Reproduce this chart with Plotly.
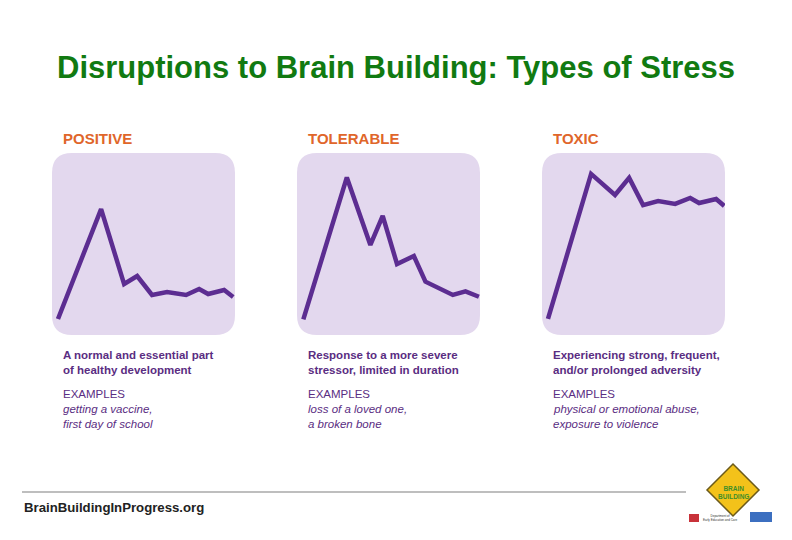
import plotly.graph_objects as go

# stress response curves, x = time (0-101), y = stress level (0-100)
positive_x = [3.3, 27.1, 39.8, 47.0, 55.2, 63.5, 74.0, 81.2, 86.2, 95.0, 100.0]
positive_y = [8.8, 69.2, 28.0, 32.4, 22.0, 23.6, 22.0, 25.3, 22.5, 24.7, 20.9]

tolerable_x = [3.5, 27.5, 40.5, 47.3, 55.2, 64.5, 70.9, 78.6, 86.0, 93.0, 100.4]
tolerable_y = [8.6, 86.6, 49.5, 65.5, 39.0, 43.4, 29.3, 25.7, 22.0, 24.0, 21.0]

toxic_x = [3.3, 27.1, 40.3, 48.1, 55.8, 64.1, 73.5, 81.8, 86.7, 96.1, 100.6]
toxic_y = [8.8, 88.5, 76.9, 86.3, 71.4, 73.6, 72.0, 75.3, 72.5, 74.7, 70.9]

headings = ["POSITIVE", "TOLERABLE", "TOXIC"]
descriptions = [
    ["A normal and essential part", "of healthy development"],
    ["Response to a more severe", "stressor, limited in duration"],
    ["Experiencing strong, frequent,", "and/or prolonged adversity"],
]
examples = [
    ["getting a vaccine,", "first day of school"],
    ["loss of a loved one,", "a broken bone"],
    ["physical or emotional abuse,", "exposure to violence"],
]

W, H = 792, 540
FONT = "Liberation Sans, Arial, sans-serif"
PURPLE = "#5c2d91"
BOX = "#e3d8ee"
ORANGE = "#e0662a"
TEXT_PURPLE = "#5a2d82"


def px(x):
    return x / W


def py(y):
    return 1 - y / H


fig = go.Figure()

series = [(positive_x, positive_y), (tolerable_x, tolerable_y), (toxic_x, toxic_y)]
lefts = [52, 297, 542]
box_w = 183
top, bottom = 153, 335
annotations = []
shapes = []

# rounded panel outline in data units (r ~ 20px)
r = 11
box_path = (
    f"M {r},0 L {101 - r},0 Q 101,0 101,{r} L 101,{100 - r} Q 101,100 {101 - r},100 "
    f"L {r},100 Q 0,100 0,{100 - r} L 0,{r} Q 0,0 {r},0 Z"
)

for i, ((xs, ys), left) in enumerate(zip(series, lefts)):
    n = "" if i == 0 else str(i + 1)
    fig.add_trace(
        go.Scatter(
            x=xs,
            y=ys,
            mode="lines",
            line={"color": PURPLE, "width": 4.5},
            xaxis=f"x{n}",
            yaxis=f"y{n}",
            hoverinfo="skip",
            showlegend=False,
        )
    )
    fig.update_layout(
        {
            f"xaxis{n}": {
                "domain": [px(left), px(left + box_w)],
                "range": [0, 101],
                "visible": False,
                "anchor": f"y{n}",
                "fixedrange": True,
            },
            f"yaxis{n}": {
                "domain": [py(bottom), py(top)],
                "range": [0, 100],
                "visible": False,
                "anchor": f"x{n}",
                "fixedrange": True,
            },
        }
    )
    shapes.append(
        {
            "type": "path",
            "path": box_path,
            "xref": f"x{n}",
            "yref": f"y{n}",
            "fillcolor": BOX,
            "line": {"width": 0},
            "layer": "below",
        }
    )

    tx = px(left + 9)
    annotations.append(
        dict(text=f"<b>{headings[i]}</b>", x=tx, y=py(138), xref="paper", yref="paper",
             xanchor="left", yanchor="middle", showarrow=False,
             font={"family": FONT, "size": 15, "color": ORANGE})
    )
    for j, line in enumerate(descriptions[i]):
        annotations.append(
            dict(text=f"<b>{line}</b>", x=tx, y=py(355 + 15 * j), xref="paper", yref="paper",
                 xanchor="left", yanchor="middle", showarrow=False,
                 font={"family": FONT, "size": 11.5, "color": TEXT_PURPLE})
        )
    annotations.append(
        dict(text="EXAMPLES", x=tx, y=py(394), xref="paper", yref="paper",
             xanchor="left", yanchor="middle", showarrow=False,
             font={"family": FONT, "size": 11.5, "color": TEXT_PURPLE})
    )
    for j, line in enumerate(examples[i]):
        annotations.append(
            dict(text=f"<i>{line}</i>", x=tx, y=py(409 + 15 * j), xref="paper", yref="paper",
                 xanchor="left", yanchor="middle", showarrow=False,
                 font={"family": FONT, "size": 11.5, "color": TEXT_PURPLE})
        )

# title
annotations.append(
    dict(text="<b>Disruptions to Brain Building: Types of Stress</b>", x=px(396), y=py(68),
         xref="paper", yref="paper", xanchor="center", yanchor="middle", showarrow=False,
         font={"family": FONT, "size": 31, "color": "#117a11"})
)

# footer
shapes.append(
    {"type": "line", "xref": "paper", "yref": "paper", "x0": px(22), "x1": px(686),
     "y0": py(492), "y1": py(492), "line": {"color": "#a8a8a8", "width": 1.5}}
)
annotations.append(
    dict(text="<b>BrainBuildingInProgress.org</b>", x=px(22), y=py(507), xref="paper",
         yref="paper", xanchor="left", yanchor="middle", showarrow=False,
         font={"family": FONT, "size": 13.2, "color": "#222222"})
)

# logo (rough sketch)
cx, cy, d = 733, 490, 26
shapes.append(
    {"type": "path", "xref": "paper", "yref": "paper",
     "path": f"M {px(cx)},{py(cy - d)} L {px(cx + d)},{py(cy)} L {px(cx)},{py(cy + d)} "
             f"L {px(cx - d)},{py(cy)} Z",
     "fillcolor": "#f3c21a", "line": {"color": "#6b5a1a", "width": 1.5}}
)
annotations.append(
    dict(text="<b>BRAIN<br>BUILDING</b>", x=px(cx), y=py(cy + 2), xref="paper", yref="paper",
         xanchor="center", yanchor="middle", showarrow=False,
         font={"family": FONT, "size": 6.5, "color": "#3f8f2a"})
)
shapes.append(
    {"type": "rect", "xref": "paper", "yref": "paper", "x0": px(689), "x1": px(699),
     "y0": py(522), "y1": py(514), "fillcolor": "#c8323a", "line": {"width": 0}}
)
shapes.append(
    {"type": "rect", "xref": "paper", "yref": "paper", "x0": px(750), "x1": px(772),
     "y0": py(522), "y1": py(512), "fillcolor": "#3c6fc0", "line": {"width": 0}}
)
annotations.append(
    dict(text="Department of<br>Early Education and Care", x=px(701), y=py(518), xref="paper",
         yref="paper", xanchor="left", yanchor="middle", showarrow=False,
         font={"family": FONT, "size": 3, "color": "#333333"})
)

fig.update_layout(
    width=W,
    height=H,
    margin={"l": 0, "r": 0, "t": 0, "b": 0},
    paper_bgcolor="white",
    plot_bgcolor="rgba(0,0,0,0)",
    shapes=shapes,
    annotations=annotations,
    showlegend=False,
)

# drop the default page margin so the figure sits at the window's corner
fig.write_html(
    "out.html",
    config={"displayModeBar": False},
    post_script="document.body.style.margin='0px';",
)
